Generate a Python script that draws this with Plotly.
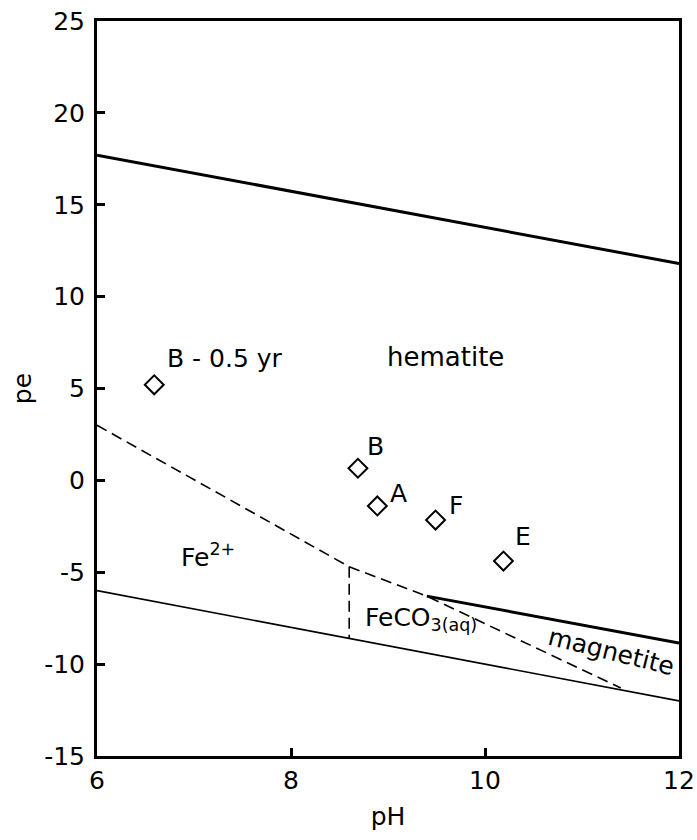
import plotly.graph_objects as go

# Stability boundaries (pH, pe)
o2_ph = [6, 12]
o2_pe = [17.7, 11.8]

h2_ph = [6, 12]
h2_pe = [-6.0, -12.0]

fe2_hem_ph = [6, 8.6]
fe2_hem_pe = [3.0, -4.7]

feco3_hem_ph = [8.6, 9.4, 11.4]
feco3_hem_pe = [-4.7, -6.3, -11.3]

fe2_feco3_ph = [8.6, 8.6]
fe2_feco3_pe = [-4.7, -8.6]

hem_mag_ph = [9.4, 12]
hem_mag_pe = [-6.3, -8.85]

# Sample points
sample_names = ["B - 0.5 yr", "B", "A", "F", "E"]
sample_ph = [6.59, 8.69, 8.89, 9.49, 10.19]
sample_pe = [5.2, 0.66, -1.39, -2.16, -4.39]

x_ticks = [6, 8, 10, 12]
y_ticks = [-15, -10, -5, 0, 5, 10, 15, 20, 25]
y_tick_text = ["-15", "-10", "-5", "0", "5", "10", "15", "20", "25"]

FONT = "DejaVu Sans, sans-serif"

fig = go.Figure()

def add_line(x, y, width, dash="solid"):
    fig.add_trace(go.Scatter(x=x, y=y, mode="lines",
                             line=dict(color="black", width=width, dash=dash),
                             hoverinfo="skip", showlegend=False))

add_line(o2_ph, o2_pe, 3)
add_line(h2_ph, h2_pe, 1.6)
add_line(fe2_hem_ph, fe2_hem_pe, 1.6, "11px,6px")
add_line(feco3_hem_ph, feco3_hem_pe, 1.6, "11px,6px")
add_line(fe2_feco3_ph, fe2_feco3_pe, 1.6, "11px,6px")
add_line(hem_mag_ph, hem_mag_pe, 3)

fig.add_trace(go.Scatter(
    x=sample_ph, y=sample_pe, mode="markers",
    marker=dict(symbol="diamond-open", size=14.5, color="black",
                line=dict(width=2, color="black")),
    showlegend=False))

# Sample labels (offset up-right of each marker)
label_dx = [0.73, 0.18, 0.22, 0.21, 0.20]
label_dy = [1.46, 1.21, 0.70, 0.82, 1.31]
for name, px, py, dx, dy in zip(sample_names, sample_ph, sample_pe, label_dx, label_dy):
    fig.add_annotation(x=px + dx, y=py + dy, text=name, showarrow=False,
                       font=dict(family=FONT, size=25, color="black"))

# Field labels
fig.add_annotation(x=9.59, y=6.7, text="hematite", showarrow=False,
                   font=dict(family=FONT, size=26, color="black"))
fig.add_annotation(x=7.14, y=-4.1, text="Fe<sup>2+</sup>", showarrow=False,
                   font=dict(family=FONT, size=25, color="black"))
fig.add_annotation(x=8.74, y=-7.55, text="FeCO<sub>3(aq)</sub>", showarrow=False,
                   xanchor="left",
                   font=dict(family=FONT, size=25, color="black"))
fig.add_annotation(x=11.3, y=-9.3, text="magnetite", showarrow=False,
                   textangle=14,
                   font=dict(family=FONT, size=25, color="black"))

axis_common = dict(showline=True, linecolor="black", linewidth=3, mirror=True,
                   ticks="inside", ticklen=8, tickwidth=3, tickcolor="black",
                   showgrid=False, zeroline=False, automargin=False,
                   tickfont=dict(family=FONT, size=25, color="black"))

fig.update_xaxes(range=[6, 12], tickvals=x_ticks,
                 title=dict(text="pH", font=dict(family=FONT, size=25, color="black"),
                            standoff=14),
                 **axis_common)
fig.update_yaxes(range=[-15, 25], tickvals=y_ticks, ticktext=y_tick_text,
                 ticklabelstandoff=4,
                 title=dict(text="pe", font=dict(family=FONT, size=25, color="black"),
                            standoff=6),
                 **axis_common)

fig.update_layout(width=697, height=840,
                  margin=dict(l=97, r=18, t=21, b=84),
                  plot_bgcolor="white", paper_bgcolor="white",
                  font=dict(family=FONT))

fig.write_html("out.html")
